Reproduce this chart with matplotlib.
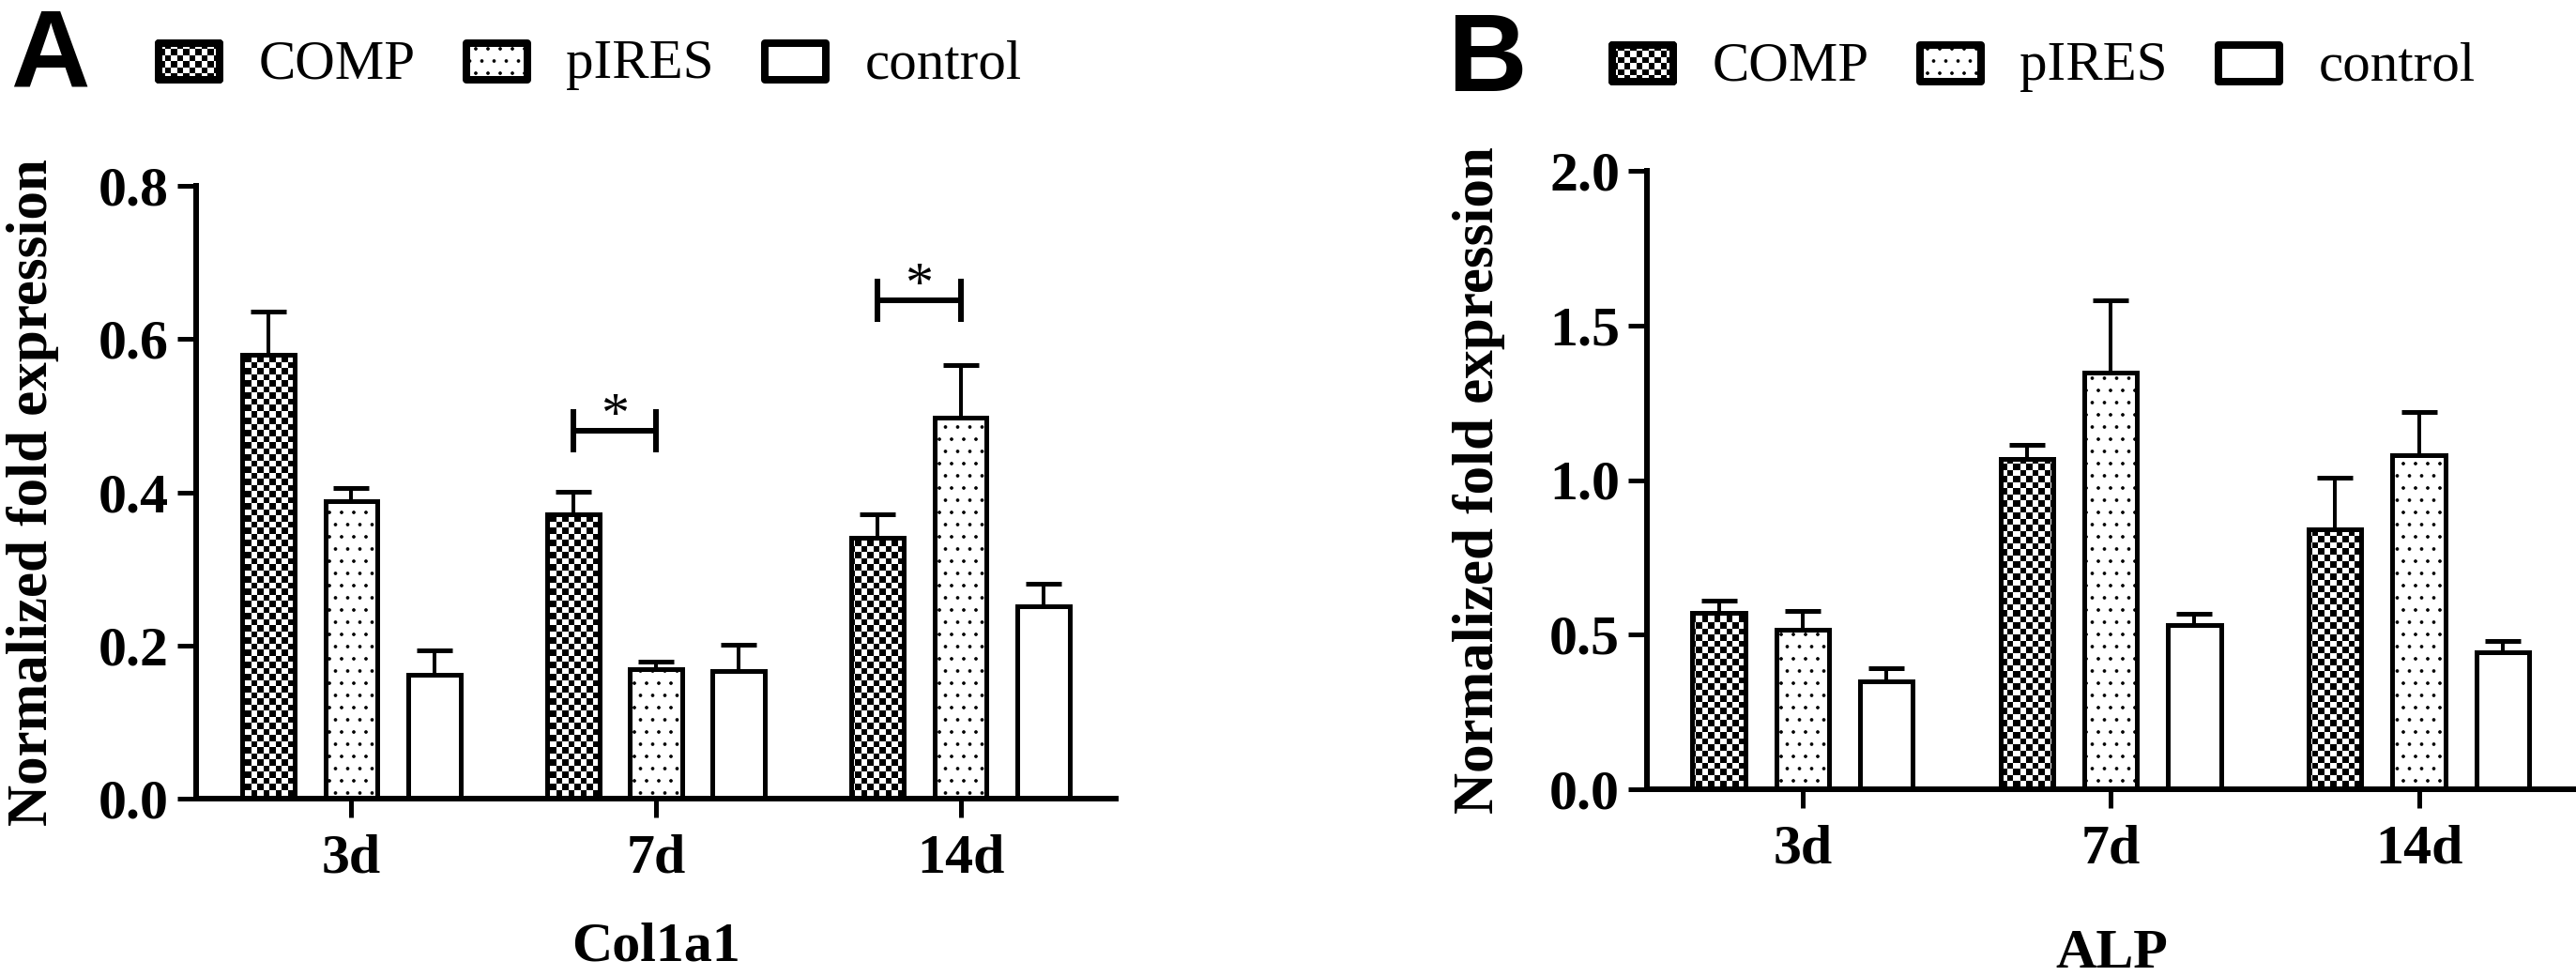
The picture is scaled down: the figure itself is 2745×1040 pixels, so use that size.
import numpy as np
import matplotlib
matplotlib.use('Agg')
import matplotlib.pyplot as plt
from matplotlib.patches import Rectangle, Patch, PathPatch
from matplotlib.path import Path
from matplotlib.legend_handler import HandlerBase

# 출력 크기 (픽셀) 와 dpi
DPI = 78
W, H = 2745, 1040


def px(v):
    # 픽셀 -> 포인트
    return v * 72.0 / DPI


# 데이터
days = ['3d', '7d', '14d']
groups = ['COMP', 'pIRES', 'control']

col1a1_comp = [0.580, 0.371, 0.340]
col1a1_comp_err = [0.056, 0.030, 0.031]
col1a1_pires = [0.388, 0.169, 0.497]
col1a1_pires_err = [0.018, 0.010, 0.069]
col1a1_ctrl = [0.162, 0.167, 0.251]
col1a1_ctrl_err = [0.032, 0.034, 0.030]
col1a1_sig_days = ['7d', '14d']
col1a1_sig_y = [0.480, 0.651]

alp_comp = [0.572, 1.067, 0.842]
alp_comp_err = [0.037, 0.046, 0.165]
alp_pires = [0.516, 1.346, 1.079]
alp_pires_err = [0.062, 0.234, 0.141]
alp_ctrl = [0.348, 0.531, 0.444]
alp_ctrl_err = [0.045, 0.036, 0.036]

col1a1_ticks = [0.0, 0.2, 0.4, 0.6, 0.8]
alp_ticks = [0.0, 0.5, 1.0, 1.5, 2.0]

plt.rcParams['font.family'] = 'Liberation Serif'
plt.rcParams['font.weight'] = 'bold'
plt.rcParams['axes.labelweight'] = 'bold'
plt.rcParams['hatch.linewidth'] = 1.0

FS = px(60)
offsets = [-0.272, 0.0, 0.272]
bar_w = 0.172
edge_lw = px(5)


class BoxHandler(HandlerBase):
    # 범례 상자 (체크무늬 옵션)
    def __init__(self, checker=False):
        super().__init__()
        self.checker = checker

    def create_artists(self, legend, orig_handle, xdescent, ydescent,
                       width, height, fontsize, trans):
        w, h = px(65), px(39)
        x0 = -xdescent + (width - w) / 2
        y0 = px(18) - h / 2
        box = Rectangle((x0, y0), w, h, facecolor='white', edgecolor='k',
                        lw=px(8), hatch=orig_handle.get_hatch(),
                        joinstyle='round', transform=trans)
        arts = [box]
        if self.checker:
            cell = px(6.5)
            verts, codes = [], []
            for i in range(int(np.ceil(w / cell))):
                for j in range(int(np.ceil(h / cell))):
                    if (i + j) % 2 == 0:
                        x = x0 + i * cell
                        y = y0 + j * cell
                        verts += [(x, y), (x + cell, y), (x + cell, y + cell),
                                  (x, y + cell), (x, y)]
                        codes += [Path.MOVETO, Path.LINETO, Path.LINETO,
                                  Path.LINETO, Path.CLOSEPOLY]
            sq = PathPatch(Path(verts, codes), facecolor='k',
                           edgecolor='none', transform=trans)
            sq.set_clip_path(box)
            frame = Rectangle((x0, y0), w, h, fill=False, edgecolor='k',
                              lw=px(8), joinstyle='round', transform=trans)
            arts += [sq, frame]
        return arts


def checker_fill(ax, bars):
    # 체크무늬 텍스처를 막대 모양으로 자르기
    pos = ax.get_position()
    wpx = int(round(pos.width * W))
    hpx = int(round(pos.height * H))
    jj, ii = np.meshgrid(np.arange(wpx), np.arange(hpx))
    tex = ((ii / 6.5).astype(int) + (jj / 6.5).astype(int)) % 2
    x0, x1 = ax.get_xlim()
    y0, y1 = ax.get_ylim()
    for rect in bars:
        im = ax.imshow(tex, cmap='gray', vmin=0, vmax=1,
                       extent=(x0, x1, y0, y1), aspect='auto',
                       interpolation='nearest', zorder=2.1)
        im.set_clip_path(rect)
    ax.set_xlim(x0, x1)
    ax.set_ylim(y0, y1)


def draw_panel(ax, series, errs, ticks, xlim, xlabel, xlabel_pad, ylabel_pad):
    x = np.arange(len(days))
    ax.set_xlim(*xlim)
    ax.set_ylim(ticks[0], ticks[-1])

    for k, (vals, err) in enumerate(zip(series, errs)):
        xs = x + offsets[k]
        ax.errorbar(xs, vals, yerr=[np.zeros(len(err)), err], fmt='none',
                    ecolor='k', elinewidth=px(4), capsize=px(19),
                    capthick=px(5), zorder=1)
        if k == 0:
            bars = ax.bar(xs, vals, bar_w, color='white', edgecolor='k',
                          lw=edge_lw, zorder=2)
            checker_fill(ax, bars)
            ax.bar(xs, vals, bar_w, fill=False, edgecolor='k', lw=edge_lw,
                   zorder=2.2)
        elif k == 1:
            ax.bar(xs, vals, bar_w, color='white', edgecolor='k', hatch='.',
                   lw=edge_lw, zorder=2)
        else:
            ax.bar(xs, vals, bar_w, color='white', edgecolor='k',
                   lw=edge_lw, zorder=2)

    for s in ['top', 'right']:
        ax.spines[s].set_visible(False)
    for s in ['left', 'bottom']:
        ax.spines[s].set_linewidth(px(6))
        ax.spines[s].set_capstyle('projecting')

    ax.set_xticks(x)
    ax.set_xticklabels(days)
    ax.set_yticks(ticks)
    ax.set_yticklabels([f'{t:.1f}' for t in ticks])
    ax.tick_params(axis='both', direction='out', length=px(20), width=px(5),
                   labelsize=FS)
    ax.tick_params(axis='x', pad=px(18))
    ax.tick_params(axis='y', pad=px(9))
    ax.set_xlabel(xlabel, fontsize=FS, fontweight='bold', labelpad=xlabel_pad)
    ax.set_ylabel('Normalized fold expression', fontsize=px(61),
                  fontweight='bold', labelpad=ylabel_pad)

    handles = [Patch(facecolor='white', edgecolor='k', hatch=h, label=g)
               for g, h in zip(groups, ['', '.', ''])]
    hmap = {handles[0]: BoxHandler(True), handles[1]: BoxHandler(),
            handles[2]: BoxHandler()}
    return handles, hmap


fig = plt.figure(figsize=(W / DPI, H / DPI), dpi=DPI)

axA = fig.add_axes([209 / W, (H - 851) / H, 980 / W, 653 / H])
axB = fig.add_axes([1755 / W, (H - 841) / H, 990 / W, 659 / H])

hA, mA = draw_panel(axA,
                    [col1a1_comp, col1a1_pires, col1a1_ctrl],
                    [col1a1_comp_err, col1a1_pires_err, col1a1_ctrl_err],
                    col1a1_ticks, (-0.51, 2.51), 'Col1a1', px(40), px(42))
hB, mB = draw_panel(axB,
                    [alp_comp, alp_pires, alp_ctrl],
                    [alp_comp_err, alp_pires_err, alp_ctrl_err],
                    alp_ticks, (-0.505, 2.51), 'ALP', px(57), px(47))

# 유의성 표시
for d, yv in zip(col1a1_sig_days, col1a1_sig_y):
    i = days.index(d)
    x1, x2 = i + offsets[0], i + offsets[1]
    dy = 0.0245
    axA.plot([x1, x2], [yv, yv], color='k', lw=px(6), zorder=3)
    axA.plot([x1, x1], [yv - dy, yv + dy], color='k', lw=px(6), zorder=3)
    axA.plot([x2, x2], [yv - dy, yv + dy], color='k', lw=px(6), zorder=3)
    axA.text((x1 + x2) / 2, yv, '*', ha='center', va='baseline',
             fontsize=px(60), fontweight='normal')

# 범례
for ax, hs, hm, lx, ly in [(axA, hA, mA, 165, 69), (axB, hB, mB, 1714, 71)]:
    ax.legend(handles=hs, handler_map=hm, ncol=3, loc='center left',
              bbox_to_anchor=(lx / W, 1 - ly / H),
              bbox_transform=fig.transFigure, frameon=False, borderpad=0,
              borderaxespad=0, handlelength=73 / 59, handleheight=0.7,
              handletextpad=0.63, columnspacing=0.86,
              prop={'family': 'Liberation Serif', 'weight': 'normal',
                    'size': px(59)})

# 패널 라벨
fig.text(11 / W, 1 - 7 / H, 'A', ha='left', va='top', fontsize=px(117),
         fontweight='bold', family='Liberation Sans')
fig.text(1542 / W, 1 - 12 / H, 'B', ha='left', va='top', fontsize=px(117),
         fontweight='bold', family='Liberation Sans')

fig.savefig('out.png', dpi=DPI, facecolor='white')
